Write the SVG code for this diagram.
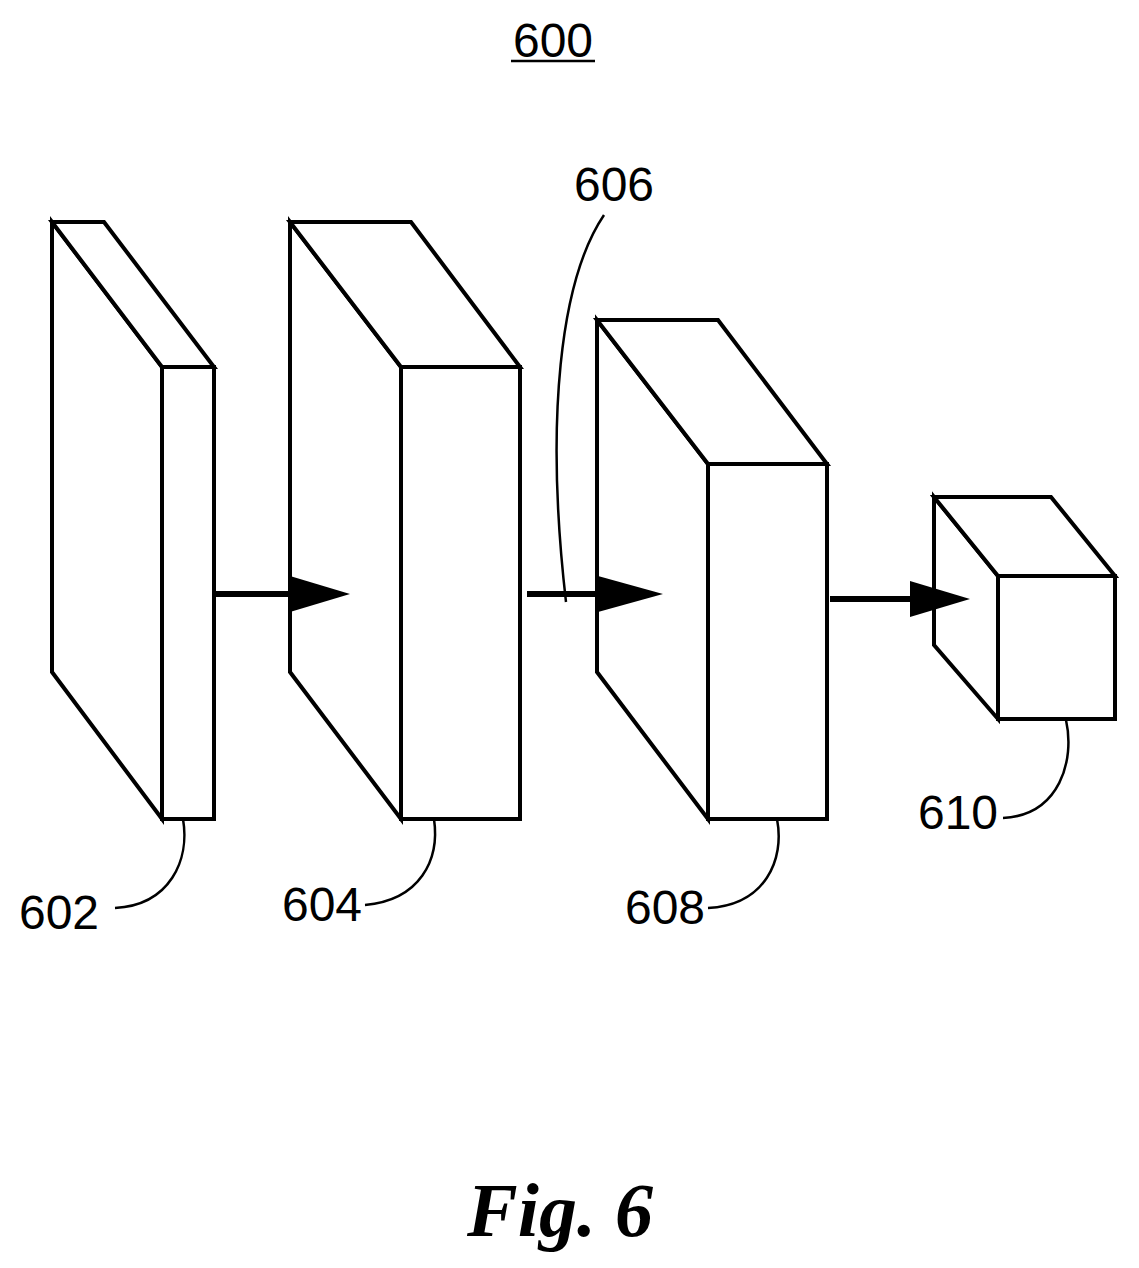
<svg xmlns="http://www.w3.org/2000/svg" width="1139" height="1268" viewBox="0 0 1139 1268">
<style>
.s{fill:#fff;stroke:#000;stroke-width:4;stroke-linejoin:miter}
.l{fill:none;stroke:#000;stroke-width:2.5}
.t{font-family:"Liberation Sans",Arial,sans-serif;font-size:48px;fill:#000}
.a{stroke:#000;stroke-width:6}
</style>
<rect width="1139" height="1268" fill="#fff"/>
<text class="t" x="553" y="57" text-anchor="middle">600</text>
<line x1="511" y1="61" x2="595" y2="61" stroke="#000" stroke-width="2.5"/>
<g id="n602">
<polygon class="s" points="52,222 162,367 162,819 52,672"/>
<polygon class="s" points="52,222 104,222 214,367 162,367"/>
<rect class="s" x="162" y="367" width="52" height="452"/>
</g>
<g id="n604">
<polygon class="s" points="290,222 401,367 401,819 290,672"/>
<polygon class="s" points="290,222 411,222 520,367 401,367"/>
<rect class="s" x="401" y="367" width="119" height="452"/>
</g>
<g id="n608">
<polygon class="s" points="597,320 708,464 708,819 597,672"/>
<polygon class="s" points="597,320 718,320 827,464 708,464"/>
<rect class="s" x="708" y="464" width="119" height="355"/>
</g>
<g id="n610">
<polygon class="s" points="934,497 998,576 998,719 934,645"/>
<polygon class="s" points="934,497 1051,497 1115,576 998,576"/>
<rect class="s" x="998" y="576" width="117" height="143"/>
</g>
<g id="connectors">
<line class="a" x1="212" y1="594" x2="292" y2="594"/>
<polygon points="290,576 350,594 290,612"/>
<line class="a" x1="527" y1="594" x2="600" y2="594"/>
<polygon points="598,576 663,594 598,612"/>
<line class="a" x1="830" y1="599" x2="912" y2="599"/>
<polygon points="910,581 970,599 910,617"/>
<path class="l" d="M604,215 C560,280 545,420 566,602"/>
<path class="l" d="M115,908 C170,905 190,860 183,819"/>
<path class="l" d="M365,905 C420,900 440,860 434,819"/>
<path class="l" d="M708,908 C765,905 785,860 777,819"/>
<path class="l" d="M1003,818 C1060,815 1075,760 1066,720"/>
</g>
<text class="t" x="614" y="201" text-anchor="middle">606</text>
<text class="t" x="59" y="929" text-anchor="middle">602</text>
<text class="t" x="322" y="921" text-anchor="middle">604</text>
<text class="t" x="665" y="924" text-anchor="middle">608</text>
<text class="t" x="958" y="829" text-anchor="middle">610</text>
<text x="560" y="1236" text-anchor="middle" font-family="Liberation Serif,serif" font-weight="bold" font-style="italic" font-size="76">Fig. 6</text>
</svg>
